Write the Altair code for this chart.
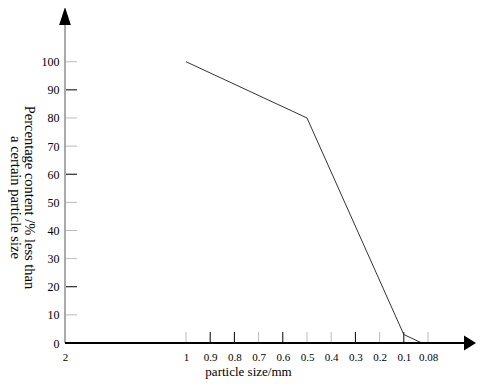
import altair as alt
import pandas as pd

# ---- data ----
sizes = [1, 0.5, 0.1, 0.085]          # particle size, mm
percent = [100, 80, 3, 0]             # percentage passing
x_ticks = [2, 1, 0.9, 0.8, 0.7, 0.6, 0.5, 0.4, 0.3, 0.2, 0.1, 0.08]
y_ticks = [0, 10, 20, 30, 40, 50, 60, 70, 80, 90, 100]
y_title = ["Percentage content /% less than", "a certain particle size"]
x_title = "particle size/mm"

FONT = "Liberation Serif"
W, H = 411, 335

line_df = pd.DataFrame({"size": sizes, "pct": percent})
xt_df = pd.DataFrame({"size": x_ticks[1:]})
yt_df = pd.DataFrame({"pct": y_ticks[1:]})
one = pd.DataFrame({"k": [0]})

xscale = alt.Scale(domain=[2, 1, 0.1, 0.08], range=[0, 121, 338.8, 363],
                   nice=False, zero=False)
yscale = alt.Scale(domain=[0, 119.1], nice=False, zero=False)

xaxis = alt.Axis(values=x_ticks, labelExpr="'' + datum.value",
                 ticks=False, tickSize=0, domain=False, grid=False,
                 labelFont=FONT, labelFontSize=11, labelColor="black",
                 labelBaseline="alphabetic", labelPadding=17,
                 labelFlush=False, labelOverlap=False, labelBound=False,
                 title=x_title, titleFont=FONT, titleFontSize=13,
                 titleFontWeight="normal", titleColor="black",
                 titleX=183, titleY=32, titleAlign="center",
                 titleBaseline="alphabetic", titleAnchor="start")
yaxis = alt.Axis(values=y_ticks, ticks=False, tickSize=0, domain=False,
                 grid=False, labelFont=FONT, labelFontSize=12,
                 labelColor="black", labelPadding=6,
                 labelFlush=False, labelOverlap=False, labelBound=False,
                 title=y_title, titleFont=FONT, titleFontSize=14.5,
                 titleFontWeight="normal", titleColor="black",
                 titleAngle=90, titleX=-36.5, titleY=189,
                 titleAlign="center", titleBaseline="middle",
                 titleLineHeight=14.5, titleAnchor="start")

line = alt.Chart(line_df).mark_line(color="#333", strokeWidth=1).encode(
    x=alt.X("size:Q", scale=xscale, axis=xaxis),
    y=alt.Y("pct:Q", scale=yscale, axis=yaxis),
)

y_axis_line = alt.Chart(one).mark_rule(color="#aaa", strokeWidth=2).encode(
    x=alt.value(0), y=alt.value(17), y2=alt.value(H))
x_axis_line = alt.Chart(one).mark_rule(color="black", strokeWidth=2).encode(
    x=alt.value(0), x2=alt.value(400), y=alt.value(H))

y_arrow = alt.Chart(one).mark_point(
    shape="M0,-1L0.65,1L-0.65,1Z", filled=True, size=324, color="black",
    opacity=1).encode(x=alt.value(0), y=alt.value(8))
x_arrow = alt.Chart(one).mark_point(
    shape="M1,0L-0.6,-1L-0.6,1Z", filled=True, size=225, color="black",
    opacity=1).encode(x=alt.value(403.5), y=alt.value(H))

y_tick_marks = alt.Chart(yt_df).mark_rule(strokeWidth=1).encode(
    y=alt.Y("pct:Q", scale=yscale, axis=yaxis),
    x=alt.value(0), x2=alt.value(12),
    color=alt.condition("indexof([90, 60, 20], datum.pct) >= 0",
                        alt.value("black"), alt.value("#bbb")))
x_tick_marks = alt.Chart(xt_df).mark_rule(strokeWidth=1).encode(
    x=alt.X("size:Q", scale=xscale, axis=xaxis),
    y=alt.value(H - 11), y2=alt.value(H),
    color=alt.condition("indexof([0.9, 0.8, 0.6, 0.3, 0.1], datum.size) >= 0",
                        alt.value("black"), alt.value("#bbb")))

chart = alt.layer(
    y_tick_marks, x_tick_marks, y_axis_line, line, x_axis_line, y_arrow, x_arrow
).properties(
    width=W, height=H,
    padding={"left": 57, "top": 0, "right": 0, "bottom": 37},
    autosize=alt.AutoSizeParams(type="none"),
    background="white",
).configure_view(stroke=None)

chart.save("out.html", embed_options={"renderer": "svg", "actions": False})
